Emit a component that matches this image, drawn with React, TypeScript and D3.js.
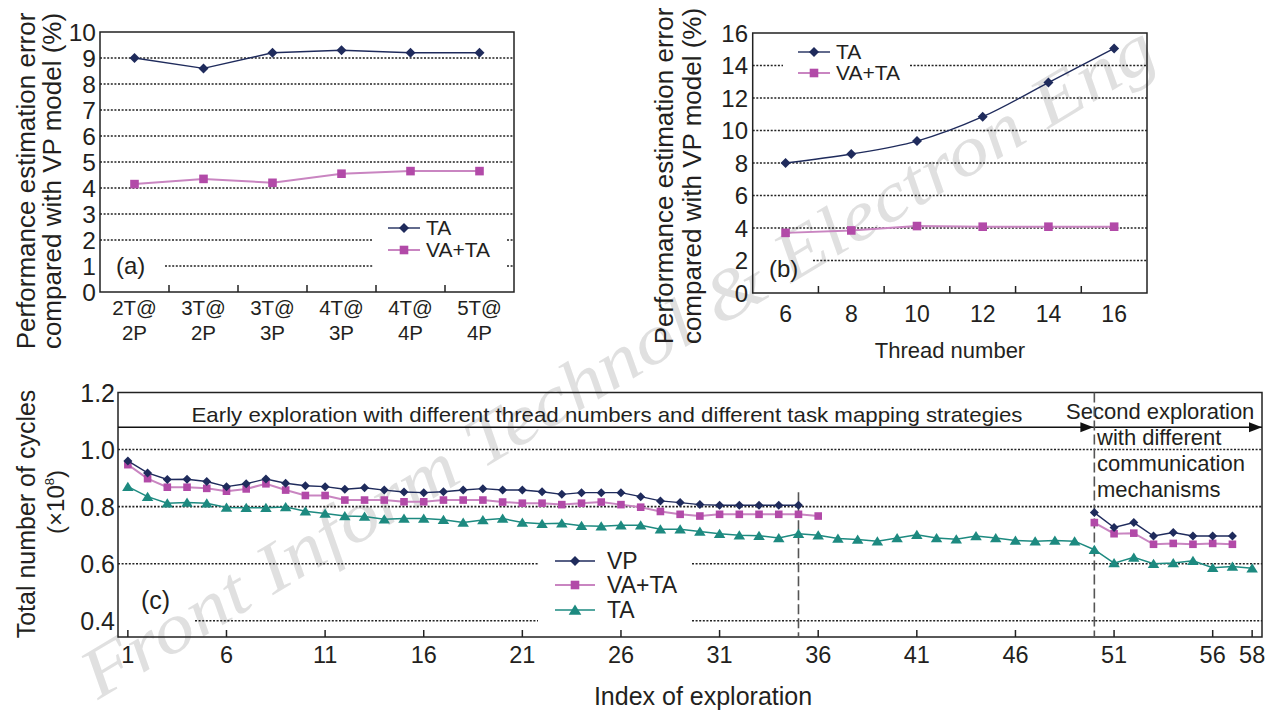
import { useEffect, useRef } from 'react'
import * as d3 from 'd3'

// (a) task mapping configurations
const configsA = ['2T@2P', '3T@2P', '3T@3P', '4T@3P', '4T@4P', '5T@4P']
const taA = [9.0, 8.6, 9.2, 9.3, 9.2, 9.2]
const vataA = [4.15, 4.35, 4.2, 4.55, 4.65, 4.65]
const ticksA = [0, 1, 2, 3, 4, 5, 6, 7, 8, 9, 10]

// (b) thread number
const threads = [6, 8, 10, 12, 14, 16]
const taB = [8.0, 8.55, 9.35, 10.85, 12.95, 15.05]
const vataB = [3.7, 3.85, 4.12, 4.08, 4.08, 4.08]
const ticksB = [0, 2, 4, 6, 8, 10, 12, 14, 16]

// (c) exploration index
const vpEarly = [0.960, 0.918, 0.895, 0.896, 0.888, 0.870, 0.880, 0.897, 0.882, 0.873,
  0.870, 0.861, 0.866, 0.858, 0.851, 0.849, 0.852, 0.858, 0.863, 0.858,
  0.858, 0.852, 0.843, 0.849, 0.849, 0.849, 0.835, 0.820, 0.814, 0.807,
  0.805, 0.805, 0.805, 0.805, 0.805]
const vpSecond = [0.779, 0.727, 0.744, 0.697, 0.709, 0.697, 0.697, 0.697]
const vataEarly = [0.947, 0.898, 0.868, 0.868, 0.864, 0.854, 0.862, 0.880, 0.858, 0.839,
  0.839, 0.823, 0.823, 0.823, 0.817, 0.817, 0.823, 0.823, 0.823, 0.816,
  0.812, 0.812, 0.807, 0.812, 0.816, 0.807, 0.798, 0.783, 0.773, 0.767,
  0.773, 0.773, 0.773, 0.773, 0.773, 0.767]
const vataSecond = [0.744, 0.705, 0.707, 0.668, 0.671, 0.668, 0.671, 0.668]
const taC = [0.870, 0.835, 0.812, 0.814, 0.812, 0.797, 0.796, 0.796, 0.799, 0.784,
  0.776, 0.767, 0.765, 0.756, 0.758, 0.758, 0.754, 0.744, 0.753, 0.758,
  0.744, 0.740, 0.742, 0.733, 0.731, 0.735, 0.735, 0.721, 0.721, 0.713,
  0.705, 0.700, 0.698, 0.690, 0.705, 0.700, 0.688, 0.685, 0.679, 0.690,
  0.701, 0.690, 0.686, 0.697, 0.690, 0.681, 0.679, 0.681, 0.679, 0.649,
  0.602, 0.622, 0.600, 0.602, 0.610, 0.586, 0.590, 0.584]
const earlyStart = 1
const secondStart = 50
const ticksCx = [1, 6, 11, 16, 21, 26, 31, 36, 41, 46, 51, 56, 58]
const ticksCy = [0.4, 0.6, 0.8, 1.0, 1.2]

const FONT = "'Liberation Sans', Arial, Helvetica, sans-serif"
const INK = '#231f20'
const NAVY = '#1f2b5c'
const MAG = '#b24aa8'
const MAG_LINE = '#c985c1'
const TEAL = '#1d8a80'
const GRID = '#222'

type Sel = d3.Selection<SVGGElement, unknown, null, undefined>

const diamond = (r: number) => `M0,${-r}L${r},0L0,${r}L${-r},0Z`
const square = (r: number) => `M${-r},${-r}H${r}V${r}H${-r}Z`
const triangle = (r: number) => `M0,${-r}L${r * 1.15},${r * 0.85}L${-r * 1.15},${r * 0.85}Z`

function hGrid(g: Sel, y: number, x0: number, x1: number, gaps: number[][] = []) {
  let start = x0
  const segs: number[][] = []
  gaps.forEach(([a, b]) => {
    if (a > start) segs.push([start, a])
    start = b
  })
  if (start < x1) segs.push([start, x1])
  segs.forEach(([a, b]) => {
    g.append('line')
      .attr('x1', a).attr('x2', b).attr('y1', y).attr('y2', y)
      .attr('stroke', GRID).attr('stroke-width', 1.6)
      .attr('stroke-dasharray', '2,1.6')
  })
}

function series(g: Sel, pts: [number, number][], color: string, lineColor: string,
  width: number, shape: string, curve: d3.CurveFactory = d3.curveLinear) {
  const line = d3.line<[number, number]>().x(d => d[0]).y(d => d[1]).curve(curve)
  g.append('path').attr('d', line(pts)).attr('fill', 'none')
    .attr('stroke', lineColor).attr('stroke-width', width)
  g.selectAll(null).data(pts).enter().append('path')
    .attr('d', shape)
    .attr('transform', d => `translate(${d[0]},${d[1]})`)
    .attr('fill', color)
}

function legendItem(g: Sel, x0: number, x1: number, y: number, label: string,
  color: string, lineColor: string, width: number, shape: string, size: number, tx: number) {
  g.append('line').attr('x1', x0).attr('x2', x1).attr('y1', y).attr('y2', y)
    .attr('stroke', lineColor).attr('stroke-width', width)
  g.append('path').attr('d', shape).attr('fill', color)
    .attr('transform', `translate(${(x0 + x1) / 2},${y})`)
  g.append('text').attr('x', tx).attr('y', y).attr('dy', '0.35em')
    .attr('font-size', size).attr('fill', INK).text(label)
}

function rotText(g: Sel, x: number, y: number, size: number, text: string) {
  return g.append('text')
    .attr('transform', `translate(${x},${y}) rotate(-90)`)
    .attr('text-anchor', 'middle').attr('font-size', size).attr('fill', INK)
    .text(text)
}

function box(g: Sel, x0: number, y0: number, x1: number, y1: number) {
  g.append('rect').attr('x', x0).attr('y', y0).attr('width', x1 - x0).attr('height', y1 - y0)
    .attr('fill', 'none').attr('stroke', '#222').attr('stroke-width', 1.5)
}

function upTicks(g: Sel, xs: number[], y: number) {
  xs.forEach(x => {
    g.append('line').attr('x1', x).attr('x2', x).attr('y1', y).attr('y2', y - 7)
      .attr('stroke', '#222').attr('stroke-width', 1.5)
  })
}

export default function App() {
  const svgRef = useRef<SVGSVGElement>(null)

  useEffect(() => {
    if (!svgRef.current) return
    const svg = d3.select(svgRef.current)
    svg.selectAll('*').remove()
    const root = svg.append('g') as unknown as Sel

    // watermark behind everything
    root.append('text')
      .attr('transform', 'translate(98,700) rotate(-31)')
      .attr('font-family', "'Liberation Serif', 'DejaVu Serif', serif")
      .attr('font-style', 'italic').attr('font-size', 70)
      .attr('fill', '#e0e0e0').attr('textLength', 1240).attr('lengthAdjust', 'spacingAndGlyphs')
      .text('Front Inform Technol & Electron Eng')

    // ---------- panel (a) ----------
    const ga = root.append('g')
    const ax = d3.scaleBand().domain(configsA).range([100, 514])
    const ay = d3.scaleLinear().domain([0, 10]).range([292, 32])
    const abw = ax.bandwidth()
    ticksA.filter(t => t > 0 && t < 10).forEach(t => {
      const gaps = t === 2 ? [[373, 507]] : t === 1 ? [[100, 165], [373, 507]] : []
      hGrid(ga, ay(t), 100, 514, gaps)
    })
    box(ga, 100, ay(10), 514, ay(0))
    upTicks(ga, configsA.slice(1).map(c => ax(c)!), ay(0))
    ticksA.forEach(t => {
      ga.append('text').attr('x', 96).attr('y', ay(t)).attr('dy', '0.36em')
        .attr('text-anchor', 'end').attr('font-size', 24.5).attr('fill', INK).text(t)
    })
    configsA.forEach(c => {
      const [top, bot] = c.split('@')
      const t = ga.append('text').attr('text-anchor', 'middle').attr('font-size', 20.5).attr('fill', INK)
      t.append('tspan').attr('x', ax(c)! + abw / 2).attr('y', 315).text(top + '@')
      t.append('tspan').attr('x', ax(c)! + abw / 2).attr('y', 340).text(bot)
    })
    series(ga, vataA.map((v, i) => [ax(configsA[i])! + abw / 2, ay(v)]), MAG, MAG_LINE, 2, square(4.3))
    series(ga, taA.map((v, i) => [ax(configsA[i])! + abw / 2, ay(v)]), NAVY, NAVY, 1.4, diamond(5))
    legendItem(ga, 388, 420, 228, 'TA', NAVY, NAVY, 1.4, diamond(5), 21, 426)
    legendItem(ga, 388, 420, 250, 'VA+TA', MAG, MAG_LINE, 2, square(4.3), 21, 426)
    ga.append('text').attr('x', 116).attr('y', 265).attr('dy', '0.36em')
      .attr('font-size', 24).attr('fill', INK).text('(a)')
    rotText(ga, 35, 181, 26, 'Performance estimation error')
    rotText(ga, 61, 181, 26, 'compared with VP model (%)')

    // ---------- panel (b) ----------
    const gb = root.append('g')
    const bx = d3.scaleBand<number>().domain(threads).range([752.7, 1147])
    const by = d3.scaleLinear().domain([0, 16]).range([293, 33])
    const bbw = bx.bandwidth()
    ticksB.filter(t => t > 0 && t < 16).forEach(t => {
      const gaps = t === 14 ? [[783, 910]] : t === 2 ? [[752.7, 813]] : []
      hGrid(gb, by(t), 752.7, 1147, gaps)
    })
    box(gb, 752.7, by(16), 1147, by(0))
    upTicks(gb, threads.slice(1).map(c => bx(c)!), by(0))
    ticksB.forEach(t => {
      gb.append('text').attr('x', 748).attr('y', by(t)).attr('dy', '0.36em')
        .attr('text-anchor', 'end').attr('font-size', 24).attr('fill', INK).text(t)
    })
    threads.forEach(t => {
      gb.append('text').attr('x', bx(t)! + bbw / 2).attr('y', 322)
        .attr('text-anchor', 'middle').attr('font-size', 23).attr('fill', INK).text(t)
    })
    gb.append('text').attr('x', 950).attr('y', 358).attr('text-anchor', 'middle')
      .attr('font-size', 22).attr('fill', INK).text('Thread number')
    series(gb, vataB.map((v, i) => [bx(threads[i])! + bbw / 2, by(v)]), MAG, MAG_LINE, 2, square(4.3))
    series(gb, taB.map((v, i) => [bx(threads[i])! + bbw / 2, by(v)]), NAVY, NAVY, 1.4, diamond(5), d3.curveCatmullRom)
    legendItem(gb, 798, 830, 52, 'TA', NAVY, NAVY, 1.4, diamond(5), 21, 836)
    legendItem(gb, 798, 830, 73, 'VA+TA', MAG, MAG_LINE, 2, square(4.3), 21, 836)
    gb.append('text').attr('x', 769).attr('y', 268).attr('dy', '0.36em')
      .attr('font-size', 24).attr('fill', INK).text('(b)')
    rotText(gb, 673, 176, 26, 'Performance estimation error')
    rotText(gb, 701, 176, 26, 'compared with VP model (%)')

    // ---------- panel (c) ----------
    const gc = root.append('g')
    const cx = d3.scaleLinear().domain([0.5, 58.5]).range([118, 1262])
    const cy = d3.scaleLinear().domain([0.343, 1.2]).range([637, 392.5])
    const left = cx(0.5), right = cx(58.5)
    ticksCy.filter(t => t < 1.2).forEach(t => {
      const gaps = t === 0.6 ? [[538, 692]] : t === 0.4 ? [[left, 195], [538, 692]] : []
      hGrid(gc, cy(t), left, right, gaps)
    })
    box(gc, left, cy(1.2), right, cy(0.343))
    upTicks(gc, ticksCx.map(t => cx(t)), cy(0.343))
    ticksCy.forEach(t => {
      gc.append('text').attr('x', 115).attr('y', cy(t)).attr('dy', '0.36em')
        .attr('text-anchor', 'end').attr('font-size', 25).attr('fill', INK).text(t.toFixed(1))
    })
    ticksCx.forEach(t => {
      gc.append('text').attr('x', cx(t)).attr('y', 663).attr('text-anchor', 'middle')
        .attr('font-size', 23.5).attr('fill', INK).text(t)
    })
    gc.append('text').attr('x', 703).attr('y', 705).attr('text-anchor', 'middle')
      .attr('font-size', 25).attr('fill', INK).text('Index of exploration')
    rotText(gc, 35, 514, 25, 'Total number of cycles')
    const unit = gc.append('text')
      .attr('transform', 'translate(64,502) rotate(-90)')
      .attr('text-anchor', 'middle').attr('font-size', 24).attr('fill', INK)
    unit.append('tspan').text('(×10')
    unit.append('tspan').attr('font-size', 13).attr('dy', -10).text('8')
    unit.append('tspan').attr('dy', 10).text(')')

    // header band with arrows
    const hy = cy(1.078)
    const split = cx(secondStart)
    const arrow = (x: number) => {
      gc.append('path').attr('d', `M${x},${hy}L${x - 13},${hy - 5}L${x - 13},${hy + 5}Z`).attr('fill', '#111')
    }
    gc.append('line').attr('x1', left).attr('x2', right).attr('y1', hy).attr('y2', hy)
      .attr('stroke', '#111').attr('stroke-width', 1.5)
    arrow(split - 1)
    arrow(right)
    gc.append('text').attr('x', 607).attr('y', 422).attr('text-anchor', 'middle')
      .attr('font-size', 21).attr('fill', INK)
      .attr('textLength', 831).attr('lengthAdjust', 'spacingAndGlyphs')
      .text('Early exploration with different thread numbers and different task mapping strategies')
    gc.append('text').attr('x', 1066).attr('y', 419).attr('font-size', 22).attr('fill', INK)
      .text('Second exploration')
    ;['with different', 'communication', 'mechanisms'].forEach((s, i) => {
      gc.append('text').attr('x', 1097).attr('y', 445 + i * 26).attr('font-size', 22)
        .attr('fill', INK).text(s)
    })

    // dashed separators
    gc.append('line').attr('x1', split).attr('x2', split).attr('y1', cy(1.2)).attr('y2', cy(0.343))
      .attr('stroke', '#555').attr('stroke-width', 1.6).attr('stroke-dasharray', '10,4')
    gc.append('line').attr('x1', cx(35)).attr('x2', cx(35)).attr('y1', cy(0.85)).attr('y2', cy(0.343))
      .attr('stroke', '#555').attr('stroke-width', 1.6).attr('stroke-dasharray', '10,4')

    const pts = (vals: number[], start: number) =>
      vals.map((v, i) => [cx(start + i), cy(v)] as [number, number])
    series(gc, pts(taC, earlyStart), TEAL, TEAL, 1.5, triangle(5))
    series(gc, pts(vataEarly, earlyStart), MAG, MAG_LINE, 2, square(3.8))
    series(gc, pts(vataSecond, secondStart), MAG, MAG_LINE, 2, square(3.8))
    series(gc, pts(vpEarly, earlyStart), NAVY, NAVY, 1.4, diamond(4.5))
    series(gc, pts(vpSecond, secondStart), NAVY, NAVY, 1.4, diamond(4.5))

    legendItem(gc, 555, 595, 561, 'VP', NAVY, NAVY, 1.4, diamond(5), 23, 607)
    legendItem(gc, 555, 595, 585, 'VA+TA', MAG, MAG_LINE, 2, square(4.3), 23, 607)
    legendItem(gc, 555, 595, 610, 'TA', TEAL, TEAL, 1.5, triangle(5.5), 23, 607)
    gc.append('text').attr('x', 141).attr('y', 600).attr('dy', '0.36em')
      .attr('font-size', 25).attr('fill', INK).text('(c)')
  }, [])

  return (
    <div style={{ position: 'absolute', left: 0, top: 0 }}>
      <svg ref={svgRef} width={1272} height={713} style={{ display: 'block', background: '#fff' }}
        fontFamily={FONT} />
    </div>
  )
}
